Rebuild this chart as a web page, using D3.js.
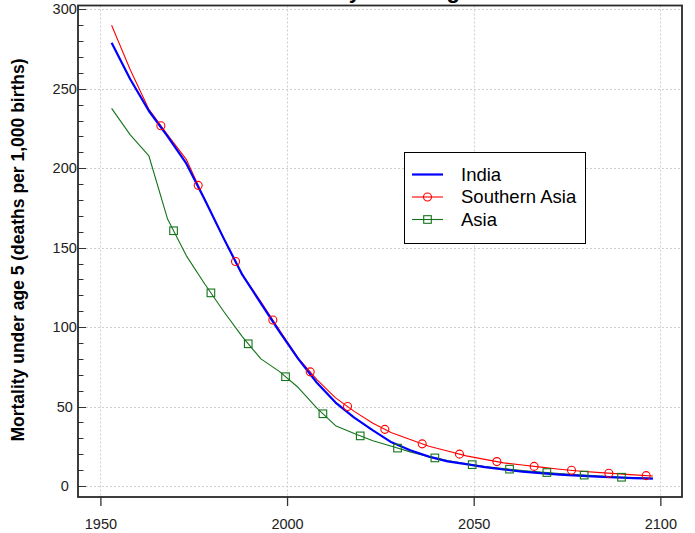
<!DOCTYPE html>
<html>
<head>
<meta charset="utf-8">
<script src="https://cdn.jsdelivr.net/npm/d3@7"></script>
<style>
  html, body { margin: 0; padding: 0; background: #fff; }
  svg { display: block; font-family: "Liberation Sans", Arial, sans-serif; }
</style>
</head>
<body>
<svg id="chart" width="695" height="533"></svg>
<script>
// ---- data ----
const years = [1953,1958,1963,1968,1973,1978,1983,1988,1993,1998,2003,2008,2013,2018,2023,2028,2033,2038,2043,2048,2053,2058,2063,2068,2073,2078,2083,2088,2093,2098];
const india = [279,256,236,220,203,180,156,133,115,97,80,65,52.5,43,35,27.5,22.5,18.5,15.5,13.8,11.9,10.4,9.1,8.1,7.2,6.5,5.9,5.4,5.0,4.7];
const southernAsia = [290,262,237,221,205.6,180,156,133,116,98,80.5,67,55.5,47,39.5,33.5,29.3,25,22,19,16.8,14.6,13.2,11.9,10.6,9.5,8.6,7.8,7.0,6.3];
const asia = [237.7,221,207.7,168,145,127,110,94,80,72,62,49,38,33,28.5,25,21.5,18.5,16,14,12.3,11,9.8,8.8,7.9,7.1,6.4,5.7,5.2,4.9];
const southernAsiaMarkerYears = [1966.2,1976.2,1986.2,1996.2,2006.2,2016.2,2026.2,2036.2,2046.2,2056.2,2066.2,2076.2,2086.2,2096.2];
const asiaMarkerYears = [1969.6,1979.6,1989.6,1999.6,2009.6,2019.6,2029.6,2039.6,2049.6,2059.6,2069.6,2079.6,2089.6];
const xTicks = [1950,2000,2050,2100];
const yTicks = [0,50,100,150,200,250,300];
const yMinorTicks = d3.range(0, 301, 10);
const seriesNames = ["India","Southern Asia","Asia"];
const title = "Mortality under age 5";
const yTitle = "Mortality under age 5 (deaths per 1,000 births)";

// ---- layout ----
const svg = d3.select("#chart");
const pL = 78, pR = 682, pT = 5.5, pB = 497;
const x = d3.scaleLinear().domain([1944, 2105.8]).range([pL, pR]);
const y = d3.scaleLinear().domain([-6.9, 302.4]).range([pB, pT]);

const colors = {"India":"#0000ff","Southern Asia":"#ff0000","Asia":"#13741a"};

// title (mostly clipped at top, as in the reference)
svg.append("text").attr("x", 380).attr("y", -2.5).attr("text-anchor","middle")
  .attr("font-size", 22).attr("font-weight","bold").attr("fill","#000").text(title);

// grid
const grid = svg.append("g").attr("stroke","#cfcfcf").attr("stroke-width",1).attr("stroke-dasharray","2,2");
xTicks.forEach(t => grid.append("line").attr("x1", Math.round(x(t))+0.5).attr("x2", Math.round(x(t))+0.5).attr("y1", pT).attr("y2", pB));
yTicks.forEach(t => grid.append("line").attr("y1", Math.round(y(t))+0.5).attr("y2", Math.round(y(t))+0.5).attr("x1", pL).attr("x2", pR));

// y ticks (inside), minor + major
const yt = svg.append("g").attr("stroke","#333").attr("stroke-width",1);
yMinorTicks.forEach(t => {
  const major = t % 50 === 0;
  yt.append("line").attr("x1", pL).attr("x2", pL + (major ? 8 : 5.5))
    .attr("y1", Math.round(y(t))+0.5).attr("y2", Math.round(y(t))+0.5);
});
// y tick labels centered
svg.append("g").selectAll("text").data(yTicks).join("text")
  .attr("x", 64.7).attr("y", d => y(d)).attr("dy","0.35em")
  .attr("text-anchor","middle").attr("font-size",14.5).attr("fill","#222").text(d => d);

// x axis ticks below frame
const xAxis = d3.axisBottom(x).tickValues(xTicks).tickSize(9).tickPadding(13).tickFormat(d3.format("d"));
const xg = svg.append("g").attr("transform", `translate(0,${pB})`).call(xAxis);
xg.select(".domain").remove();
xg.selectAll(".tick line").attr("stroke","#333").attr("stroke-width",1.3);
xg.selectAll(".tick text").attr("font-size",14.5).attr("fill","#222").attr("font-family","Liberation Sans, Arial, sans-serif");

// y title
svg.append("text").attr("transform", `translate(24,250) rotate(-90)`).attr("text-anchor","middle")
  .attr("font-size",17.5).attr("font-weight","bold").attr("fill","#000").text(yTitle);

// lines
const line = d3.line().x(d => x(d[0])).y(d => y(d[1]));
const seriesData = {
  "India": years.map((yr,i) => [yr, india[i]]),
  "Southern Asia": years.map((yr,i) => [yr, southernAsia[i]]),
  "Asia": years.map((yr,i) => [yr, asia[i]])
};
const widths = {"India":2.2,"Southern Asia":1.1,"Asia":1.1};
["Asia","Southern Asia","India"].forEach(n => {
  svg.append("path").datum(seriesData[n]).attr("d", line).attr("fill","none")
    .attr("stroke", colors[n]).attr("stroke-width", widths[n]).attr("stroke-linejoin","round");
});

// markers placed on the series lines
const onLine = (vals) => d3.scaleLinear().domain(years).range(vals);
const saAt = onLine(southernAsia), asAt = onLine(asia);
svg.append("g").selectAll("circle").data(southernAsiaMarkerYears).join("circle")
  .attr("cx", d => x(d)).attr("cy", d => y(saAt(d))).attr("r", 4)
  .attr("fill","none").attr("stroke", colors["Southern Asia"]).attr("stroke-width",1.1);
svg.append("g").selectAll("rect").data(asiaMarkerYears).join("rect")
  .attr("x", d => x(d)-3.8).attr("y", d => y(asAt(d))-3.8).attr("width",7.6).attr("height",7.6)
  .attr("fill","none").attr("stroke", colors["Asia"]).attr("stroke-width",1.1);

// frame
svg.append("rect").attr("x", pL).attr("y", pT).attr("width", pR-pL).attr("height", pB-pT)
  .attr("fill","none").attr("stroke","#2a2a2a").attr("stroke-width",1.8);

// legend
const lg = svg.append("g");
lg.append("rect").attr("x",404.5).attr("y",152.5).attr("width",181).attr("height",91)
  .attr("fill","#fff").attr("stroke","#000").attr("stroke-width",1);
const rowY = [174.5, 197, 219.5];
seriesNames.forEach((n,i) => {
  const g = lg.append("g");
  g.append("line").attr("x1",412).attr("x2",443).attr("y1",rowY[i]).attr("y2",rowY[i])
    .attr("stroke", colors[n]).attr("stroke-width", widths[n]);
  if (n === "Southern Asia") g.append("circle").attr("cx",427.5).attr("cy",rowY[i]).attr("r",4)
    .attr("fill","none").attr("stroke",colors[n]).attr("stroke-width",1.1);
  if (n === "Asia") g.append("rect").attr("x",427.5-3.8).attr("y",rowY[i]-3.8).attr("width",7.6).attr("height",7.6)
    .attr("fill","none").attr("stroke",colors[n]).attr("stroke-width",1.1);
  g.append("text").attr("x",461).attr("y",rowY[i]).attr("dy","0.35em").attr("font-size",18.5)
    .attr("fill","#000").text(n);
});
</script>
</body>
</html>
